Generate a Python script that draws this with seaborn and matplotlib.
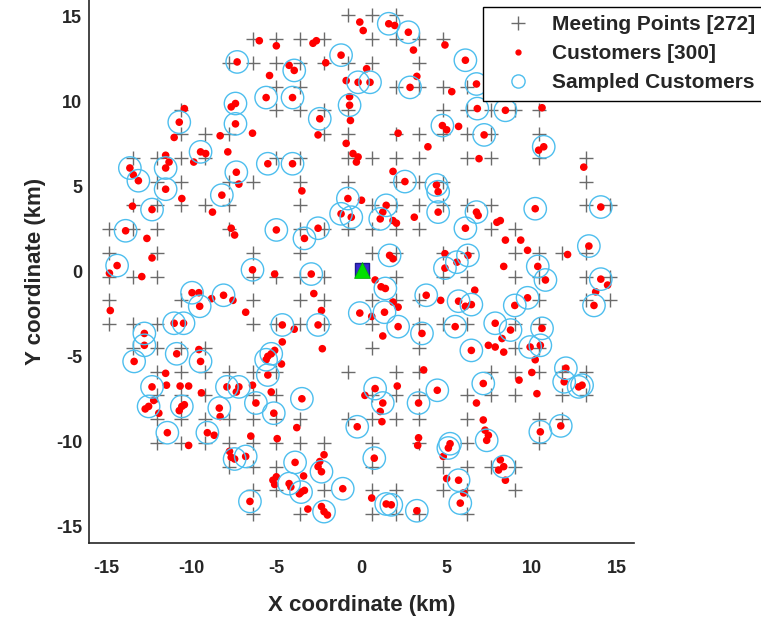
import matplotlib
matplotlib.use("Agg")
import matplotlib.pyplot as plt
import seaborn as sns
import pandas as pd
from matplotlib.lines import Line2D

# ---------------- data (km) ----------------
# meeting points, listed row by row: row y value -> x values on that row
meet_row_y = [15.1, 13.7, 12.3, 10.9, 9.5, 8.1, 6.7, 5.3, 3.9, 2.5, 1.1,
              -0.3, -1.7, -3.1, -4.5, -5.9, -7.3, -8.7, -10.1, -11.5, -12.9, -14.3]
meet_row_x = [
    [-0.8, 0.6, 2.0],
    [-6.4, -5.0, -3.6, -2.2, 0.6, 2.0, 3.4, 4.8],
    [-7.8, -6.4, -5.0, -3.6, -2.2, -0.8, 0.6, 3.4],
    [-5.0, -3.6, 2.0, 3.4, 4.8, 6.2],
    [-10.6, -5.0, -3.6, -2.2, -0.8, 4.8, 6.2, 7.6, 9.0, 10.4],
    [-10.6, -9.2, -7.8, -2.2, -0.8, 2.0, 3.4, 4.8, 6.2, 7.6, 10.4],
    [-13.4, -12.0, -10.6, -9.2, -5.0, -3.6, -0.8, 0.6, 2.0, 3.4, 6.2, 7.6, 10.4, 13.2],
    [-12.0, -10.6, -7.8, -6.4, -3.6, -0.8, 2.0, 3.4, 4.8, 13.2],
    [-13.4, -12.0, -10.6, -9.2, -7.8, -3.6, 0.6, 2.0, 3.4, 4.8, 6.2, 7.6, 13.2, 14.6],
    [-14.8, -13.4, -12.0, -7.8, -3.6, -2.2, -0.8, 0.6, 2.0, 3.4, 7.6, 9.0],
    [-14.8, -12.0, -6.4, -3.6, 0.6, 2.0, 4.8, 6.2, 9.0, 10.4, 11.8, 13.2],
    [-14.8, -13.4, -12.0, -6.4, -5.0, -3.6, -2.2, 2.0, 4.8, 6.2, 9.0, 10.4, 13.2, 14.6],
    [-14.8, -10.6, -6.4, -3.6, -2.2, 0.6, 2.0, 3.4, 10.4, 13.2, 14.6],
    [-14.8, -13.4, -12.0, -6.4, -5.0, -3.6, -2.2, 0.6, 3.4, 4.8, 6.2, 9.0, 10.4],
    [-13.4, -12.0, -10.6, -9.2, 0.6, 3.4, 9.0, 10.4],
    [-12.0, -10.6, -9.2, -7.8, -6.4, -5.0, -0.8, 2.0, 3.4, 7.6, 9.0, 10.4, 11.8, 13.2],
    [-12.0, -10.6, -9.2, -6.4, -5.0, 0.6, 2.0, 3.4, 6.2, 7.6, 9.0, 11.8, 13.2],
    [-12.0, -10.6, -9.2, -7.8, -6.4, -5.0, -3.6, -0.8, 0.6, 2.0, 3.4, 6.2, 10.4, 11.8],
    [-12.0, -10.6, -9.2, -7.8, -6.4, -5.0, -3.6, -2.2, 0.6, 3.4, 6.2, 10.4],
    [-7.8, -6.4, -5.0, 0.6, 4.8, 6.2, 7.6, 9.0],
    [-6.4, -5.0, -2.2, 0.6, 2.0, 4.8, 6.2, 9.0],
    [-6.4, -3.6, 0.6, 2.0, 3.4, 6.2],
]

# customers that were not sampled
plain_x = [-10.4, -11.0, -8.3, -9.15, -9.85, -13.4, -11.5, -11.3, -0.1, 0.1, -6.0, -5.0,
           -2.85, -2.65, -4.25, -2.1, -5.4, -0.9, -0.7, -0.65, -7.65, -6.4, -2.55, -0.9,
           -0.5, -0.3, -0.2, -7.85, 1.95, 3.05, 4.9, 0.3, 3.25, 5.3, 2.15, 5.0, 5.7, 3.9,
           6.9, 1.85, 10.6, 10.4, 13.05, -10.55, -13.45, -8.75, -12.6, -12.3, -14.8, -12.9,
           -14.75, -9.55, -8.8, -9.55, -7.2, -3.5, 0.0, -7.65, -7.45, -5.1, -7.55, -2.8,
           -2.35, -6.8, -3.95, -4.65, -2.3, -5.1, -5.5, -4.7, 1.25, 1.85, 2.05, 3.1, 6.85,
           7.95, 1.85, 4.9, 0.8, 1.15, 6.65, 4.65, 6.1, 1.85, 2.15, 0.6, 1.25, 7.45, 7.85,
           8.15, 8.45, 9.35, 9.75, 12.1, 8.35, 14.45, 13.75, 8.25, 8.35, 10.2, -11.5, -11.45,
           -10.65, -10.15, -9.4, -12.7, -12.2, -10.7, -10.4, -11.9, -8.3, -8.65, -10.15,
           -7.35, -6.4, -5.3, -3.8, -6.5, -4.95, -7.75, -7.65, -3.4, -2.45, -2.2, -2.55,
           -4.15, -5.2, -5.0, -5.1, -3.35, -3.65, -2.35, -2.0, -3.15, 3.65, 0.2, 2.1, 1.1,
           1.2, 6.75, 7.15, 7.25, 7.45, 3.35, 3.3, 4.8, 5.0, 6.0, 0.6, 9.25, 10.0, 10.3,
           8.15, 8.05, 8.45]
plain_y = [9.6, 7.9, 8.0, 6.95, 6.45, 5.7, 6.85, 6.45, 14.7, 14.2, 13.6, 13.3,
           13.45, 13.6, 12.15, 12.3, 11.55, 11.25, 10.3, 8.9, 9.7, 8.15, 8.05, 7.55,
           6.95, 6.45, 6.75, 7.05, 14.5, 13.05, 13.35, 11.95, 11.5, 10.6, 8.15, 8.35, 8.55, 7.35,
           6.65, 5.9, 9.65, 7.15, 6.15, 4.3, 3.85, 3.5, 1.95, 0.8, -0.1, -0.3,
           -2.3, -1.25, -1.6, -4.6, 5.15, 4.75, 4.2, 2.55, 2.15, -0.15, -1.7, -1.3,
           -2.3, -2.4, -3.4, -4.15, -4.55, -4.65, -5.0, -5.45, 3.5, 3.0, 2.85, 3.2, 3.3,
           2.9, 0.75, 1.05, -0.5, -0.9, -1.1, -1.7, -2.05, -1.8, -2.1, -2.65, -3.8, -4.35, -4.45,
           3.0, 1.85, 1.85, 1.25, 1.0, 0.3, -0.8, -1.2, -3.95, -4.75, -5.2, -6.0, -6.7,
           -6.75, -6.75, -7.15, -8.1, -7.6, -8.2, -7.85, -8.35, -8.55, -9.65, -10.25,
           -7.1, -6.7, -7.1, -9.2, -9.7, -9.85, -10.6, -10.95, -12.05, -11.2, -10.8, -11.5,
           -12.7, -12.3, -12.1, -12.55, -12.9, -13.1, -13.85, -14.35, -14.0, -5.8, -7.3, -6.75, -8.25,
           -8.85, -7.75, -8.75, -9.35, -9.65, -9.8, -10.25, -10.9, -12.2, -13.05, -13.35, -6.4, -5.95, -7.2,
           -11.1, -11.7, -12.3]

# sampled customers
samp_x = [-10.7, -9.45, -13.6, -13.1, -11.5, -1.2, -7.3, -3.95, -5.6, -4.05, -0.2, 0.5,
          -0.7, -7.4, -7.4, -2.45, -5.5, -4.05, -7.35, 1.6, 2.75, 6.1, 2.85, 6.75, 6.8,
          4.75, 7.2, 2.55, 8.45, 10.7, -11.5, -8.2, -12.3, -13.85, -14.35, -9.95, -8.1,
          -9.5, -11.0, -10.45, -12.75, -12.75, -10.85, -13.35, -9.45, -0.8, -1.2, -0.6,
          -5.0, -3.35, -2.55, -6.4, -2.95, -0.1, -4.65, -2.55, -5.3, -5.6, 4.4, 4.5, 1.45,
          1.1, 4.5, 6.75, 6.1, 1.65, 4.9, 5.6, 6.25, 1.4, 3.8, 5.7, 6.45, 1.35, 2.15, 3.55,
          5.5, 7.85, 6.45, 10.2, 14.05, 13.35, 10.35, 10.8, 14.05, 9.75, 9.0, 13.65, 8.75,
          10.6, 9.9, 10.5, -12.3, -7.9, -12.5, -10.55, -8.35, -11.4, -9.05, -5.5, -7.2,
          -6.2, -5.15, -3.5, -0.25, -7.45, -6.8, -3.9, -2.35, -4.25, -3.55, -1.1, -6.55,
          -2.2, 0.8, 1.25, 3.35, 4.45, 7.15, 7.35, 5.2, 5.1, 0.75, 5.7, 5.8, 1.45, 1.75,
          3.25, 12.0, 11.9, 12.75, 12.95, 10.5, 11.7, 8.35]
samp_y = [8.8, 7.05, 6.1, 5.35, 6.1, 12.75, 12.35, 11.85, 10.25, 10.25, 11.15, 11.15,
          9.8, 9.9, 8.7, 9.0, 6.35, 6.35, 5.85, 14.6, 14.1, 12.45, 10.85, 11.05, 9.6,
          8.6, 8.05, 5.3, 9.5, 7.35, 4.85, 4.5, 3.65, 2.4, 0.35, -1.25, -1.4,
          -2.05, -3.05, -3.05, -3.65, -4.35, -4.85, -5.3, -5.3, 4.3, 3.4, 3.2,
          2.45, 1.95, 2.55, 0.1, -0.15, -2.45, -3.15, -3.15, -4.85, -5.2, 5.1, 4.7, 3.9,
          3.1, 3.5, 3.5, 2.55, 0.95, 0.2, 0.55, 0.95, -1.0, -1.4, -1.75, -1.95, -2.4, -3.25, -3.65,
          -3.25, -3.05, -4.65, 3.7, 3.8, 1.5, 0.3, -0.5, -0.45, -1.55, -2.0, -2.0, -3.45,
          -3.35, -4.45, -4.35, -6.8, -6.8, -7.95, -7.95, -8.05, -9.5, -9.5, -6.1, -6.8,
          -7.75, -8.35, -7.5, -9.15, -11.05, -10.9, -11.25, -11.8, -12.5, -13.0, -12.8, -13.55,
          -14.15, -6.9, -7.75, -7.75, -7.0, -6.6, -9.95, -10.15, -10.4, -11.0, -12.3, -13.65, -13.7, -13.75,
          -14.1, -5.7, -6.5, -6.8, -6.7, -9.45, -9.1, -11.5]

depot_x = [0.0]
depot_y = [0.1]

legend_labels = ["Meeting Points [272]", "Customers [300]", "Sampled Customers"]
x_ticks = [-15, -10, -5, 0, 5, 10, 15]
y_ticks = [-15, -10, -5, 0, 5, 10, 15]

# ---------------- tables ----------------
mx, my = [], []
for yv, xs in zip(meet_row_y, meet_row_x):
    mx.extend(xs)
    my.extend([yv] * len(xs))
meet = pd.DataFrame({"x": mx, "y": my})
cust = pd.DataFrame({"x": plain_x + samp_x, "y": plain_y + samp_y})
samp = pd.DataFrame({"x": samp_x, "y": samp_y})
depot = pd.DataFrame({"x": depot_x, "y": depot_y})

# ---------------- style ----------------
sns.set_theme(style="white")
plt.rcParams["font.family"] = ["Liberation Sans", "DejaVu Sans"]
plt.rcParams["font.weight"] = "bold"

GRAY = "#6b6b6b"
RED = "#ff0000"
CYAN = "#4DBEEE"

fig = plt.figure(figsize=(7.61, 6.22), dpi=100)
ax = fig.add_axes([89 / 761, 79 / 622, 545 / 761, 543 / 622])

sns.scatterplot(data=meet, x="x", y="y", marker="+", s=95, color=GRAY,
                linewidth=1.0, ax=ax, zorder=2, legend=False)
sns.scatterplot(data=cust, x="x", y="y", marker="o", s=30, color=RED,
                edgecolor="none", linewidth=0, ax=ax, zorder=3, legend=False)
sns.scatterplot(data=samp, x="x", y="y", marker="o", s=260, facecolors="none",
                edgecolors=CYAN, linewidth=1.0, ax=ax, zorder=4, legend=False)
sns.scatterplot(data=depot, x="x", y="y", marker="s", s=110, facecolor="#3a2bd0",
                edgecolor="#1a1a8c", linewidth=1.0, ax=ax, zorder=5, legend=False)
sns.scatterplot(data=depot, x="x", y="y", marker="^", s=130, color="#00e000",
                edgecolor="#00b000", linewidth=0.5, ax=ax, zorder=6, legend=False)

ax.set_xlim(-16, 16)
ax.set_ylim(-16, 16)
ax.set_xticks(x_ticks)
ax.set_yticks(y_ticks)
ax.set_xticklabels([str(t) for t in x_ticks], fontsize=13, fontweight="bold")
ax.set_yticklabels([str(t) for t in y_ticks], fontsize=13, fontweight="bold")
ax.tick_params(direction="in", length=5, width=1, colors="#262626")
ax.tick_params(axis="x", pad=12)
ax.tick_params(axis="y", pad=5)
for side in ["top", "right"]:
    ax.spines[side].set_visible(False)
for side in ["left", "bottom"]:
    ax.spines[side].set_color("#262626")
    ax.spines[side].set_linewidth(1.2)
ax.set_xlabel("X coordinate (km)", fontsize=16, fontweight="bold", labelpad=13)
ax.set_ylabel("Y coordinate (km)", fontsize=16, fontweight="bold", labelpad=7)

handles = [
    Line2D([], [], marker="+", color=GRAY, linestyle="none", markersize=10, markeredgewidth=1.0),
    Line2D([], [], marker="o", color=RED, linestyle="none", markersize=3.5),
    Line2D([], [], marker="o", markerfacecolor="none", markeredgecolor=CYAN,
           linestyle="none", markersize=9.5, markeredgewidth=1.0),
]
leg = ax.legend(handles, legend_labels, loc="upper left",
                bbox_to_anchor=(483 / 761, 1 - 7 / 622), bbox_transform=fig.transFigure,
                frameon=True, fancybox=False, framealpha=1, edgecolor="black",
                prop={"size": 15, "weight": "bold"}, handletextpad=0.35,
                labelspacing=0.48, borderpad=0.4, handlelength=2.57, borderaxespad=0)
leg.get_frame().set_linewidth(1.0)
leg.set_zorder(10)

fig.savefig("out.png", dpi=100)
